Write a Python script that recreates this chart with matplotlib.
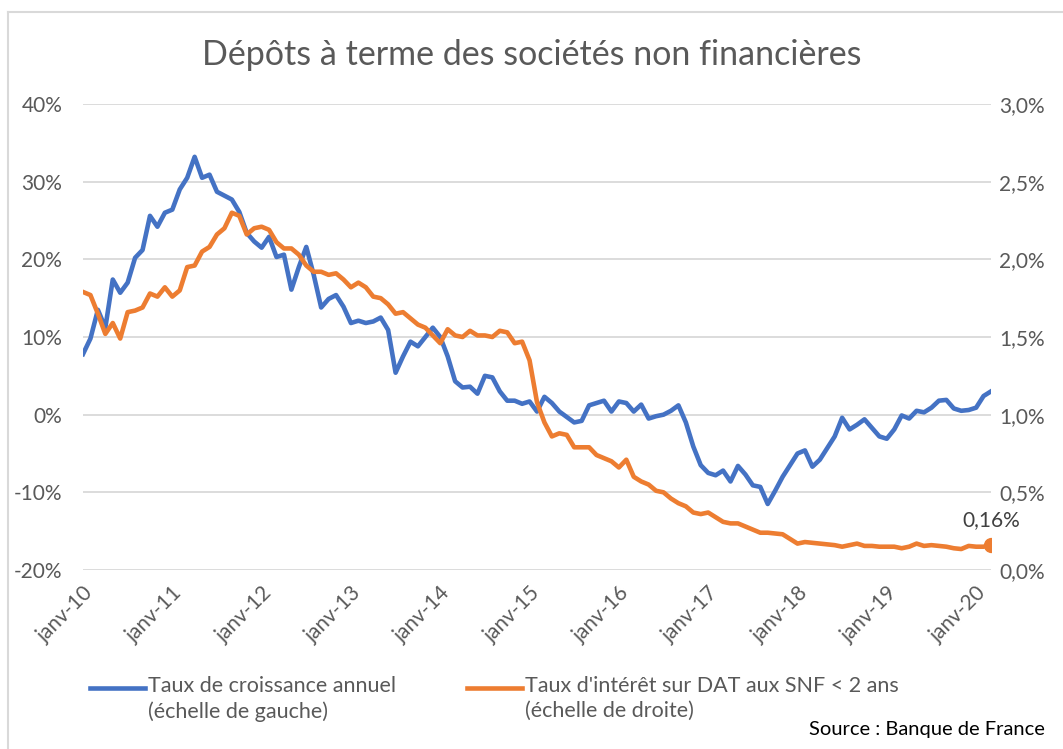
"""Dépôts à terme des sociétés non financières"""
import numpy as np
import matplotlib
matplotlib.use("Agg")
import matplotlib.pyplot as plt
from matplotlib.lines import Line2D
from matplotlib.ticker import FuncFormatter

plt.rcParams['font.family'] = ['Lato', 'DejaVu Sans']

# monthly values, janv-2010 .. mars-2020
croissance = [
    7.8, 9.8, 13.5, 11.2, 17.4, 15.7, 17.0, 20.2, 21.2, 25.6, 24.2, 26.0,
    26.4, 29.0, 30.5, 33.2, 30.5, 30.9, 28.7, 28.2, 27.7, 26.1, 23.4, 22.3,
    21.5, 22.9, 20.3, 20.6, 16.1, 19.0, 21.6, 18.0, 13.8, 14.9, 15.4, 13.9,
    11.8, 12.1, 11.8, 12.0, 12.5, 10.9, 5.4, 7.5, 9.4, 8.8, 10.0, 11.2,
    10.0, 7.5, 4.3, 3.5, 3.6, 2.7, 5.0, 4.8, 3.0, 1.8, 1.8, 1.4,
    1.7, 0.4, 2.3, 1.5, 0.4, -0.3, -1.0, -0.8, 1.2, 1.5, 1.8, 0.4,
    1.7, 1.5, 0.4, 1.3, -0.5, -0.2, 0.0, 0.5, 1.2, -1.0, -4.1, -6.5,
    -7.5, -7.8, -7.2, -8.6, -6.6, -7.7, -9.1, -9.3, -11.5, -9.8, -8.0, -6.5,
    -5.0, -4.6, -6.7, -5.8, -4.3, -2.8, -0.4, -1.9, -1.3, -0.6, -1.7, -2.8,
    -3.1, -1.9, -0.1, -0.5, 0.5, 0.3, 0.9, 1.8, 1.9, 0.8, 0.5, 0.6,
    0.9, 2.4, 3.0,
]
taux_dat = [
    1.79, 1.77, 1.65, 1.52, 1.59, 1.49, 1.66, 1.67, 1.69, 1.78, 1.76, 1.82,
    1.76, 1.80, 1.95, 1.96, 2.05, 2.08, 2.16, 2.20, 2.30, 2.28, 2.16, 2.20,
    2.21, 2.19, 2.11, 2.07, 2.07, 2.03, 1.96, 1.92, 1.92, 1.90, 1.91, 1.87,
    1.82, 1.85, 1.82, 1.76, 1.75, 1.71, 1.65, 1.66, 1.62, 1.58, 1.56, 1.51,
    1.46, 1.55, 1.51, 1.50, 1.54, 1.51, 1.51, 1.50, 1.54, 1.53, 1.46, 1.47,
    1.35, 1.08, 0.95, 0.86, 0.88, 0.87, 0.79, 0.79, 0.79, 0.74, 0.72, 0.70,
    0.66, 0.71, 0.60, 0.57, 0.55, 0.51, 0.50, 0.46, 0.43, 0.41, 0.37, 0.36,
    0.37, 0.34, 0.31, 0.30, 0.30, 0.28, 0.26, 0.24, 0.24, 0.235, 0.23, 0.20,
    0.17, 0.18, 0.175, 0.17, 0.165, 0.16, 0.15, 0.16, 0.17, 0.155, 0.155, 0.15,
    0.15, 0.15, 0.14, 0.15, 0.17, 0.155, 0.16, 0.155, 0.15, 0.14, 0.135, 0.155,
    0.15, 0.15, 0.16,
]
annees = ['janv-10', 'janv-11', 'janv-12', 'janv-13', 'janv-14', 'janv-15',
          'janv-16', 'janv-17', 'janv-18', 'janv-19', 'janv-20']

BLUE = '#4472C4'
ORANGE = '#ED7D31'
GREY = '#595959'

x = np.arange(len(croissance))

fig = plt.figure(figsize=(10.63, 7.49), dpi=100)
ax = fig.add_axes([83 / 1063, 1 - 570 / 749, (991 - 83) / 1063, (570 - 104) / 749])
ax2 = ax.twinx()

ax.set_ylim(-20, 40)
ax.set_yticks(np.arange(-20, 41, 10))
ax.yaxis.set_major_formatter(FuncFormatter(lambda v, p: '%d%%' % v))
ax2.set_ylim(0, 3)
ax2.set_yticks(np.arange(0, 3.01, 0.5))
ax2.yaxis.set_major_formatter(FuncFormatter(lambda v, p: ('%.1f%%' % v).replace('.', ',')))
ax.set_xlim(0, len(croissance) - 1)
ax.set_xticks(np.arange(0, 121, 12))
ax.set_xticklabels(annees, rotation=45, ha='right', rotation_mode='anchor')

ax.grid(axis='y', color='#D9D9D9', lw=1.3)
ax.set_axisbelow(True)
for a in (ax, ax2):
    for s in a.spines.values():
        s.set_visible(False)
    a.tick_params(length=0, labelsize=15, colors=GREY)
ax.tick_params(axis='y', pad=15)
ax.tick_params(axis='x', pad=9)
ax2.tick_params(axis='y', pad=6)

ax.plot(x, croissance, color=BLUE, lw=3.3, solid_joinstyle='round', zorder=3)
ax2.plot(x, taux_dat, color=ORANGE, lw=3.3, solid_joinstyle='round', zorder=3)
ax2.plot(x[-1], taux_dat[-1], 'o', color=ORANGE, ms=10, zorder=4)
ax2.annotate(('%.2f%%' % taux_dat[-1]).replace('.', ','), (x[-1], taux_dat[-1]),
             xytext=(0, 11), textcoords='offset points', ha='center',
             va='bottom', fontsize=15, color='#404040')

fig.text(0.5, 1 - 55 / 749, 'Dépôts à terme des sociétés non financières',
         ha='center', va='center', fontsize=24.5, color=GREY)

# legend drawn by hand
fig.add_artist(Line2D([90 / 1063, 145 / 1063], [1 - 688 / 749] * 2, color=BLUE, lw=3.3))
fig.text(148 / 1063, 1 - 676 / 749, 'Taux de croissance annuel\n(échelle de gauche)',
         ha='left', va='top', fontsize=15.5, color=GREY, linespacing=1.3)
fig.add_artist(Line2D([467 / 1063, 522 / 1063], [1 - 688 / 749] * 2, color=ORANGE, lw=3.3))
fig.text(525 / 1063, 1 - 676 / 749, "Taux d'intérêt sur DAT aux SNF < 2 ans\n(échelle de droite)",
         ha='left', va='top', fontsize=15.5, color=GREY, linespacing=1.3)
fig.text(1045 / 1063, 1 - 730 / 749, 'Source : Banque de France',
         ha='right', va='center', fontsize=14.5, color='black')

# chart border
fig.add_artist(Line2D([8 / 1063, 8 / 1063], [0, 1 - 12 / 749], color='#D9D9D9', lw=1.5))
fig.add_artist(Line2D([8 / 1063, 1], [1 - 12 / 749] * 2, color='#D9D9D9', lw=1.5))

fig.savefig('out.png', dpi=100)
